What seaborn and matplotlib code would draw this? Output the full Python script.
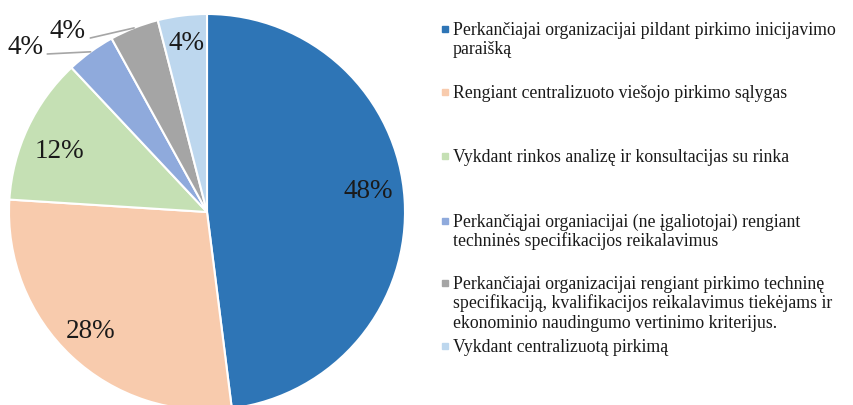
import matplotlib
matplotlib.use("Agg")
import matplotlib.pyplot as plt
from matplotlib.patches import Rectangle
import numpy as np
import seaborn as sns

# data
categories = [
    "Perkančiajai organizacijai pildant pirkimo inicijavimo\nparaišką",
    "Rengiant centralizuoto viešojo pirkimo sąlygas",
    "Vykdant rinkos analizę ir konsultacijas su rinka",
    "Perkančiąjai organiacijai (ne įgaliotojai) rengiant\ntechninės specifikacijos reikalavimus",
    "Perkančiajai organizacijai rengiant pirkimo techninę\nspecifikaciją, kvalifikacijos reikalavimus tiekėjams ir\nekonominio naudingumo vertinimo kriterijus.",
    "Vykdant centralizuotą pirkimą",
]
shares = [48, 28, 12, 4, 4, 4]
colors = ["#2E75B6", "#F8CBAD", "#C5E0B4", "#8FAADC", "#A5A5A5", "#BDD7EE"]

W, H = 854, 405
cx, cy, r = 207, 212, 198  # pie centre / radius in pixels


def px2data(x, y):
    return (x - cx) / r, (cy - y) / r


sns.set_theme(style="white")
plt.rcParams["font.family"] = ["Liberation Serif", "DejaVu Serif"]

fig = plt.figure(figsize=(W / 100, H / 100), dpi=100)
ax = fig.add_axes([0, 0, 1, 1])

wedges, texts, autotexts = ax.pie(
    shares,
    colors=colors,
    startangle=90,
    counterclock=False,
    autopct="%1.0f%%",
    pctdistance=0.82,
    wedgeprops=dict(edgecolor="white", linewidth=1.5),
    textprops=dict(fontsize=19.5, color="#1a1a1a"),
)

# label placement like the original (best fit), in pixels
inside_pos = {0: (368, 192), 1: (91, 331), 2: (59, 151), 5: (187, 44)}
for i, p in inside_pos.items():
    autotexts[i].set_position(px2data(*p))

# outside labels with leader lines for two small slices
outside = {3: ((26, 47), (1.08, 0.22)), 4: ((68, 31), (1.12, 0.22))}
for i, (p, rel) in outside.items():
    w = wedges[i]
    ang = np.deg2rad((w.theta1 + w.theta2) / 2)
    autotexts[i].set_visible(False)
    ax.annotate(
        autotexts[i].get_text(),
        xy=(np.cos(ang), np.sin(ang)),
        xytext=px2data(*p),
        ha="center", va="center",
        fontsize=19.5, color="#1a1a1a",
        arrowprops=dict(arrowstyle="-", color="#a6a6a6", lw=1.2,
                        shrinkA=0, shrinkB=0, relpos=rel),
    )

ax.set_xlim(-cx / r, (W - cx) / r)
ax.set_ylim(-(H - cy) / r, cy / r)
ax.set_aspect("auto")
ax.axis("off")

# legend on the right
baselines = [35, 98, 162, 227, 289, 352]
line_h = 19.3
for lab, col, yb in zip(categories, colors, baselines):
    for k, line in enumerate(lab.split("\n")):
        fig.text(453 / W, 1 - (yb + k * line_h) / H, line, fontsize=12.8,
                 color="#1a1a1a", ha="left", va="baseline")
    fig.patches.append(Rectangle((442 / W, 1 - (yb - 3) / H), 6 / W, 6 / H,
                                 transform=fig.transFigure, color=col))

fig.savefig("out.png", dpi=100)
plt.close(fig)
